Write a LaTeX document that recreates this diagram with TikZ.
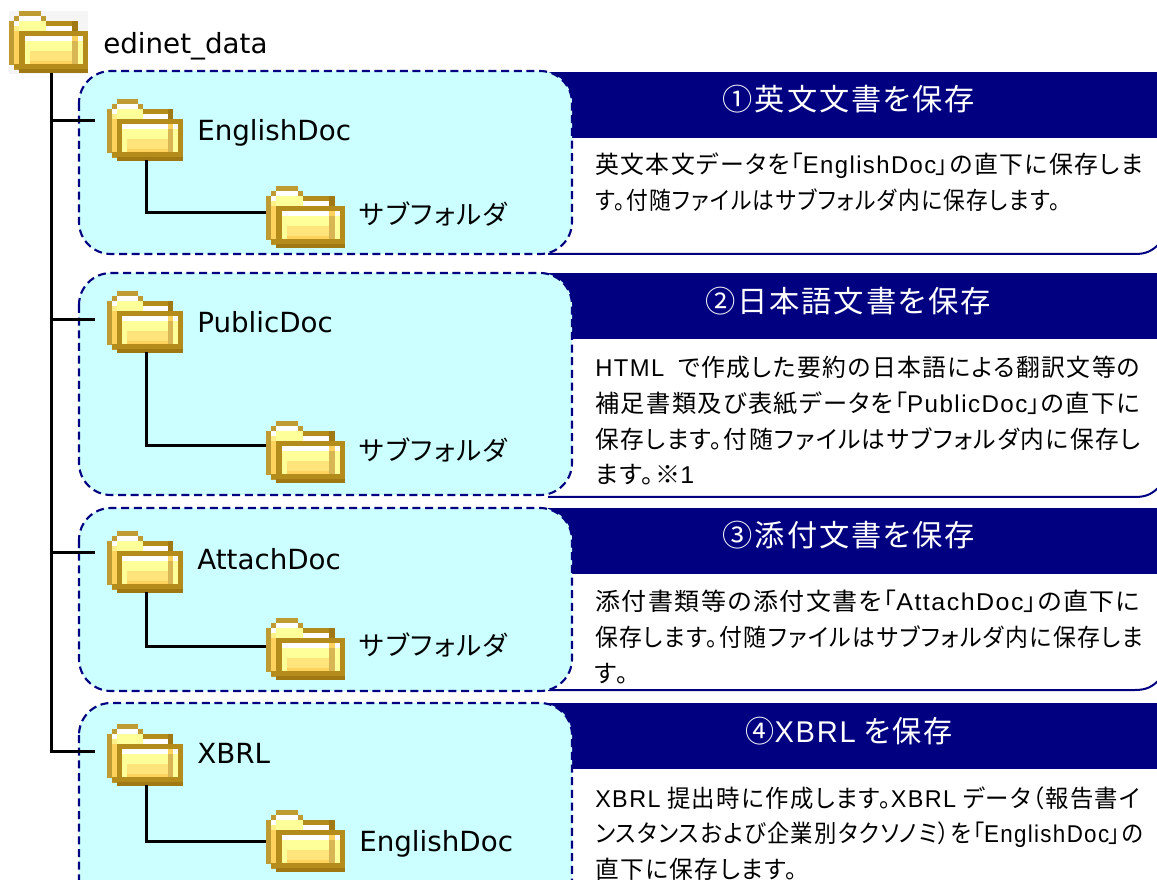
\documentclass[tikz,border=0pt]{standalone}
\usepackage{fontspec}
\usepackage{graphicx}
\setmainfont{DejaVu Sans}
\newfontfamily\jpfont[RawFeature={+palt},LetterSpace=6]{Noto Sans CJK JP}
\newfontfamily\latfont[LetterSpace=6]{Liberation Sans}
\newcommand{\lat}[1]{{\latfont #1}}
% one text line, set to a width given in pixels
\newcommand{\fitl}[2]{\resizebox{\dimexpr #1pt*3/4\relax}{\height}{#2}}
\definecolor{navybar}{HTML}{000080}
\definecolor{paleaqua}{HTML}{CCFFFF}
\definecolor{goldA}{HTML}{BE9B33}
\definecolor{goldB}{HTML}{B48C1C}
\definecolor{goldC}{HTML}{A07814}
\definecolor{creamA}{HTML}{FFFF99}
\definecolor{creamB}{HTML}{FFE47C}
\definecolor{creamC}{HTML}{FFD25E}
\definecolor{tanA}{HTML}{D8B654}
\tikzset{
  treeline/.style={black,line width=2.25pt,line join=miter},
  bluebox/.style={draw=navybar,fill=paleaqua,line width=1.6pt,rounded corners=24pt,dash pattern=on 6pt off 3.5pt},
  baseline line/.style={draw=navybar,line width=1.5pt},
  headtext/.style={white,font=\fontsize{22.5pt}{27pt}\selectfont\jpfont,inner sep=0pt},
  bodytext/.style={black,anchor=north west,align=left,inner sep=0pt,font=\fontsize{18.2pt}{26.8pt}\selectfont\jpfont},
  dirname/.style={black,anchor=base west,inner sep=0pt,font=\fontsize{20.8pt}{25pt}\selectfont},
  subname/.style={black,anchor=base west,inner sep=0pt,font=\fontsize{19.9pt}{25pt}\selectfont\jpfont},
  folder/.pic={
    \begin{scope}[x=3.75pt,y=-3.75pt]
    \fill[goldA] (2,0) rectangle (6.2,1);        % tab
    \fill[goldA] (1,1) rectangle (2,2);
    \fill[white] (2,1) rectangle (6.2,2);
    \fill[goldA] (6.2,1) rectangle (7.2,2);
    \fill[goldA] (0,2) rectangle (1,10.8);       % back
    \fill[creamC] (1,4) rectangle (2,11);
    \fill[white] (1,2) rectangle (2,3);
    \fill[creamB!60!creamA] (1,3) rectangle (2,4);
    \fill[creamA] (2,2) rectangle (7.2,4);
    \fill[goldB] (7.2,2) rectangle (13,3);
    \fill[white] (7.2,3) rectangle (12.2,4);
    \fill[goldC] (12.2,2) rectangle (13.2,4);
    \fill[goldA] (1,10.8) rectangle (2,11.8);
    \fill[goldB] (2,4) rectangle (15.2,5);       % front
    \fill[goldB] (2,5) rectangle (3,11);
    \fill[goldB] (14.2,5) rectangle (15.2,11);
    \fill[creamA] (3,5) rectangle (14.2,10.6);
    \fill[white] (3,5) rectangle (14.2,6);
    \fill[creamB] (4,8) rectangle (12.2,10.6);
    \fill[creamC] (4,10) rectangle (12.2,10.6);
    \fill[creamC] (12.2,5) rectangle (13.2,6);
    \fill[tanA] (12.2,6) rectangle (13.2,10.6);
    \fill[goldB] (1,10.6) rectangle (15.2,11.6);
    \fill[goldC] (2,11.6) rectangle (15.2,12.4);
    \coordinate (-bottom) at (7.8,12.2);
    \end{scope}
  }
}
\begin{document}
\begin{tikzpicture}[x=0.75pt,y=-0.75pt]
    \useasboundingbox (0,0) rectangle (1157,880);
    \clip (0,0) rectangle (1157,880);
    % right hand panels
    \fill[navybar] (548,72) rectangle (1157,138);
    \fill[navybar] (548,273) rectangle (1157,339);
    \fill[navybar] (548,508) rectangle (1157,574);
    \fill[navybar] (548,703) rectangle (1157,769);
    \draw[baseline line] (548,254) -- (1135,254) .. controls (1146,254) and (1152,251) .. (1159,244);
    \draw[baseline line] (548,497) -- (1135,497) .. controls (1146,497) and (1152,494) .. (1159,487);
    \draw[baseline line] (548,690) -- (1135,690) .. controls (1146,690) and (1152,687) .. (1159,680);
    % dashed boxes
    \draw[bluebox] (79,71) rectangle (572,254);
    \draw[bluebox] (79,273) rectangle (572,495);
    \draw[bluebox] (79,508) rectangle (572,691);
    \draw[bluebox] (79,703) rectangle (572,920);
    % folders
    \fill[black!4] (9,11) rectangle (88,74);
    \pic[xscale=1.04] (root) at (9,11) {folder};
    \pic (engdir) at (107,99) {folder};
    \pic[xscale=1.04] (engsub) at (266,186) {folder};
    \pic (pubdir) at (107,291) {folder};
    \pic[xscale=1.04] (pubsub) at (266,421) {folder};
    \pic (attdir) at (107,531) {folder};
    \pic[xscale=1.04] (attsub) at (266,618) {folder};
    \pic (xbrldir) at (107,724) {folder};
    \pic[xscale=1.04] (xbrlsub) at (266,810) {folder};
    % tree lines
    \coordinate (rootbot) at (51,73);
    \coordinate (hookA) at (95,121);
    \coordinate (hookB) at (95,320);
    \coordinate (hookC) at (95,552);
    \coordinate (hookD) at (95,751);
    \coordinate (tieA) at (266,213);
    \coordinate (tieB) at (266,446);
    \coordinate (tieC) at (266,646);
    \coordinate (tieD) at (266,841);
    \draw[treeline] (rootbot) |- (hookA);
    \draw[treeline] (rootbot) |- (hookB);
    \draw[treeline] (rootbot) |- (hookC);
    \draw[treeline] (rootbot) |- (hookD);
    \draw[treeline] (engdir-bottom) |- (tieA);
    \draw[treeline] (pubdir-bottom) |- (tieB);
    \draw[treeline] (attdir-bottom) |- (tieC);
    \draw[treeline] (xbrldir-bottom) |- (tieD);
    % folder names
    \node[dirname] (rootname) at (103,54) {edinet\_data};
    \node[dirname] (engname) at (197,141) {EnglishDoc};
    \node[dirname] (pubname) at (197,333) {PublicDoc};
    \node[dirname] (attname) at (197,569) {AttachDoc};
    \node[dirname] (xbrlname) at (197,763) {XBRL};
    \node[subname] (engsubname) at (359,225) {サブフォルダ};
    \node[subname] (pubsubname) at (359,461) {サブフォルダ};
    \node[subname] (attsubname) at (359,655) {サブフォルダ};
    \node[dirname] (xbrlsubname) at (359,851) {EnglishDoc};
    % headings
    \node[headtext] (headA) at (849,99) {\fitl{252}{①英文文書を保存}};
    \node[headtext] (headB) at (848,301) {\fitl{285}{②日本語文書を保存}};
    \node[headtext] (headC) at (849,535) {\fitl{252}{③添付文書を保存}};
    \node[headtext] (headD) at (849,731) {\fitl{207}{④\lat{XBRL} を保存}};
    % body texts
    \node[bodytext] (bodyA) at (595,153) {\fitl{548}{英文本文データを「\lat{EnglishDoc}」の直下に保存しま}\\\fitl{465}{す。付随ファイルはサブフォルダ内に保存します。}};
    \node[bodytext] (bodyB) at (595,356) {\fitl{545}{\lat{HTML}\ \ で作成した要約の日本語による翻訳文等の}\\\fitl{545}{補足書類及び表紙データを「\lat{PublicDoc}」の直下に}\\\fitl{545}{保存します。付随ファイルはサブフォルダ内に保存し}\\\fitl{99}{ます。※\lat{1}}};
    \node[bodytext] (bodyC) at (595,590) {\fitl{545}{添付書類等の添付文書を「\lat{AttachDoc}」の直下に}\\\fitl{548}{保存します。付随ファイルはサブフォルダ内に保存しま}\\\fitl{33}{す。}};
    \node[bodytext] (bodyD) at (595,786) {\fitl{545}{\lat{XBRL} 提出時に作成します。\lat{XBRL} データ（報告書イ}\\\fitl{548}{ンスタンスおよび企業別タクソノミ）を「\lat{EnglishDoc}」の}\\\fitl{202}{直下に保存します。}};
\end{tikzpicture}
\end{document}
